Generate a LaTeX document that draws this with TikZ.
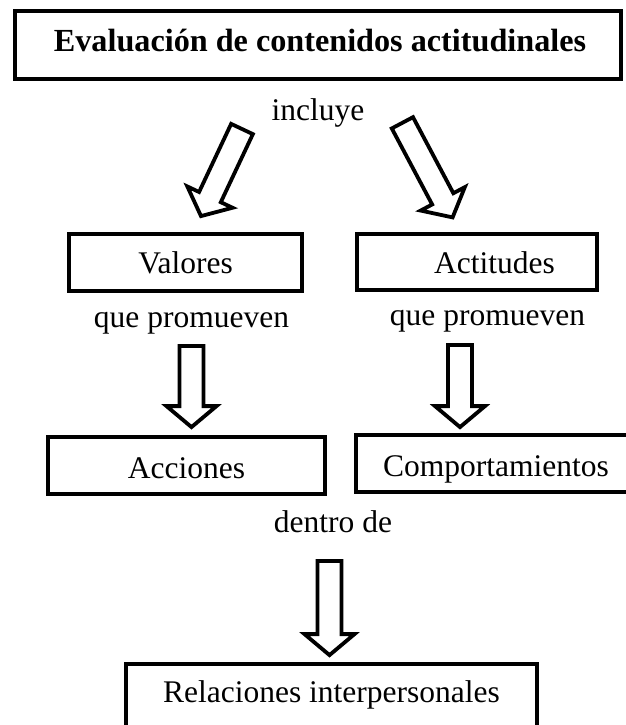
\documentclass[tikz,border=0pt]{standalone}
\usepackage{fontspec}
\setmainfont{Liberation Serif}
\usetikzlibrary{calc}
\tikzset{
  box/.style={draw, line width=3.8pt, inner sep=0pt, text depth=0pt, align=center,
    font=\fontsize{31.5}{38}\selectfont},
  lbl/.style={inner sep=0pt, anchor=base, font=\fontsize{31.5}{38}\selectfont},
  blk/.style={draw, line width=3.8pt, line join=miter, fill=white},
}
\newcommand{\blockarrow}[2]{%
  \coordinate (ba-h) at ($(#2)!21pt!(#1)$);
  \draw[blk] ($(#1)!12pt!90:(#2)$) -- ($(ba-h)!12pt!90:(#2)$) -- ($(ba-h)!25pt!90:(#2)$)
    -- (#2) -- ($(ba-h)!25pt!-90:(#2)$) -- ($(ba-h)!12pt!-90:(#2)$)
    -- ($(#1)!12pt!-90:(#2)$) -- cycle;
}
\begin{document}
\begin{tikzpicture}[x=1pt, y=-1pt]
  \useasboundingbox (0,0) rectangle (626,725);
  \clip (0,0) rectangle (626,725);

  % boxes
  \node[box, minimum width=606pt, minimum height=68pt, text height=14pt,
        font=\fontsize{32.2}{38}\selectfont\bfseries] (title) at (318,45)
        {\hspace*{4pt}Evaluación de contenidos actitudinales};
  \node[box, minimum width=233pt, minimum height=57pt, text height=21pt] (valores) at (185.5,262.5) {Valores};
  \node[box, minimum width=240pt, minimum height=56pt, text height=22pt] (actitudes) at (477,262) {\hspace*{35pt}Actitudes};
  \node[box, minimum width=277pt, minimum height=57pt, text height=25pt] (acciones) at (186.5,465.5) {Acciones};
  \node[box, minimum width=280pt, minimum height=57pt, text height=25pt] (comport) at (496,463.5) {Comportamientos};
  \node[box, minimum width=411pt, minimum height=92pt, text height=20pt, text depth=36pt] (relaciones) at (331.5,710) {Relaciones interpersonales};

  % linking words
  \node[lbl] (incluye) at (318,120) {incluye};
  \node[lbl] (qp1) at (191.5,327) {que promueven};
  \node[lbl] (qp2) at (487.5,325) {que promueven};
  \node[lbl] (dentro) at (333,532) {dentro de};

  % arrow tails
  \coordinate (t1) at (242,129);
  \coordinate (t2) at (402.4,122.8);
  \coordinate (t3) at (191.5,346);
  \coordinate (t4) at (460,345);
  \coordinate (t5) at (329.5,561);

  % arrow tips
  \coordinate (p1) at ($(valores.north)+(15.5,-16)$);
  \coordinate (p2) at ($(actitudes.north)+(-24.4,-14.7)$);
  \coordinate (p3) at ($(acciones.north)+(5,-8)$);
  \coordinate (p4) at ($(comport.north)+(-36,-6)$);
  \coordinate (p5) at ($(relaciones.north)+(-2,-7)$);

  \blockarrow{t1}{p1}
  \blockarrow{t2}{p2}
  \blockarrow{t3}{p3}
  \blockarrow{t4}{p4}
  \blockarrow{t5}{p5}
\end{tikzpicture}
\end{document}
